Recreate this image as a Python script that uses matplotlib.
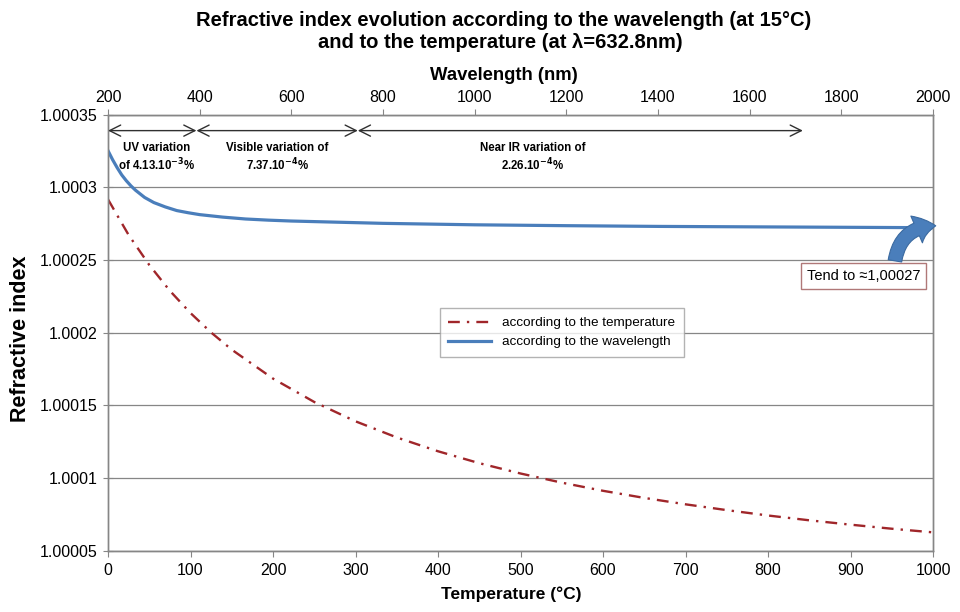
import matplotlib
matplotlib.use('Agg')
import matplotlib.pyplot as plt
from matplotlib.patches import FancyArrowPatch

plt.rcParams['font.family'] = ['Liberation Sans', 'DejaVu Sans']

# temperature curve (bottom axis), refractive index
temperature = [0, 25, 50, 75, 100, 125, 150, 200, 250, 300, 350, 400, 450,
               500, 550, 600, 650, 700, 750, 800, 850, 900, 950, 1000]
n_temperature = [1.0002917, 1.0002672, 1.0002466, 1.0002288, 1.0002135,
                 1.0002001, 1.0001883, 1.0001684, 1.0001523, 1.0001390,
                 1.0001279, 1.0001184, 1.0001102, 1.0001031, 1.0000968,
                 1.0000912, 1.0000863, 1.0000819, 1.0000779, 1.0000742,
                 1.0000709, 1.0000679, 1.0000651, 1.0000626]

# wavelength curve (top axis)
wavelength = [200, 210, 220, 230, 240, 250, 260, 280, 300, 325, 350, 375,
              400, 450, 500, 550, 600, 650, 700, 800, 1000, 1200, 1400,
              1600, 1800, 2000]
n_wavelength = [1.0003252, 1.000319, 1.0003135, 1.0003085, 1.0003045,
                1.000301, 1.000298, 1.000293, 1.0002895, 1.0002865,
                1.000284, 1.0002825, 1.0002812, 1.0002795, 1.0002782,
                1.0002774, 1.0002768, 1.0002764, 1.000276, 1.0002752,
                1.0002742, 1.0002736, 1.0002731, 1.0002728, 1.0002725,
                1.0002722]

y_ticks = [1.00005, 1.0001, 1.00015, 1.0002, 1.00025, 1.0003, 1.00035]
y_labels = ['1.00005', '1.0001', '1.00015', '1.0002', '1.00025', '1.0003', '1.00035']
t_ticks = list(range(0, 1001, 100))
w_ticks = list(range(200, 2001, 200))

# spectral ranges shown with the arrows on top (nm)
range_edges = [200, 393, 745, 1716]
range_texts = ['UV variation\nof 4.13.10$^{\\mathbf{-3}}$%',
               'Visible variation of\n7.37.10$^{\\mathbf{-4}}$%',
               'Near IR variation of\n2.26.10$^{\\mathbf{-4}}$%']
range_text_x = [306, 570, 1127]

grey = '#868686'
blue = '#4a7ebb'
red = '#a0262a'

fig = plt.figure(figsize=(9.6, 6.12), dpi=100)
ax = fig.add_axes([0.1125, 0.1002, 0.8594, 0.7125])
ax2 = ax.twiny()

l1, = ax.plot(temperature, n_temperature, color=red, lw=1.7,
              linestyle=(0, (5, 3, 1, 3)), label='according to the temperature')
l2, = ax2.plot(wavelength, n_wavelength, color=blue, lw=2.3,
               label='according to the wavelength')

ax.set_xlim(0, 1000)
ax2.set_xlim(200, 2000)
ax.set_ylim(1.00005, 1.00035)
ax.set_yticks(y_ticks)
ax.set_yticklabels(y_labels)
ax.set_xticks(t_ticks)
ax2.set_xticks(w_ticks)
ax.yaxis.grid(True, color=grey, lw=0.9)
ax.set_axisbelow(True)

for a in (ax, ax2):
    for s in a.spines.values():
        s.set_color(grey)
        s.set_linewidth(1.0)
ax.tick_params(axis='y', direction='inout', length=7, color=grey, labelsize=11.5, pad=4)
ax.tick_params(axis='x', direction='out', length=4, color=grey, labelsize=11.5, pad=5)
ax2.tick_params(axis='x', direction='out', length=4, color=grey, labelsize=11.5, pad=3)

ax.set_xlabel('Temperature (°C)', fontsize=12.5, fontweight='bold')
ax.xaxis.set_label_coords(0.489, -0.083)
ax.set_ylabel('Refractive index', fontsize=15.5, fontweight='bold')
ax.yaxis.set_label_coords(-0.093, 0.485)
ax2.set_xlabel('Wavelength (nm)', fontsize=13.3, fontweight='bold')
ax2.xaxis.set_label_coords(0.48, 1.08)

fig.text(0.525, 0.967, 'Refractive index evolution according to the wavelength (at 15°C)',
         ha='center', va='center', fontsize=14.5, fontweight='bold')
fig.text(0.521, 0.931, 'and to the temperature (at λ=632.8nm)',
         ha='center', va='center', fontsize=14.5, fontweight='bold')

# range arrows
arrow_y = 1.000339
for i in range(len(range_edges) - 1):
    ax2.annotate('', xy=(range_edges[i + 1], arrow_y), xytext=(range_edges[i], arrow_y),
                 arrowprops=dict(arrowstyle='<->', color='#303030', lw=1.0,
                                 shrinkA=0, shrinkB=0, mutation_scale=20))
for xt, txt in zip(range_text_x, range_texts):
    ax2.text(xt, 1.000331, txt, ha='center', va='top', fontsize=8.3,
             fontweight='bold', linespacing=1.2)

leg = ax.legend(handles=[l1, l2], loc='center', bbox_to_anchor=(0.55, 0.5),
                fontsize=9.7, frameon=True, fancybox=False, handlelength=3.2,
                borderpad=0.65, labelspacing=0.5)
leg.get_frame().set_edgecolor('#a0a0a0')
leg.get_frame().set_linewidth(1.0)

# "tend to" box and curved arrow
ax2.text(1849, 1.000239, 'Tend to ≈1,00027', ha='center', va='center', fontsize=10.5,
         bbox=dict(boxstyle='square,pad=0.4', fc='white', ec='#b07878', lw=1.0))
arr = FancyArrowPatch((1916, 1.0002475), (2012, 1.0002735),
                      connectionstyle='arc3,rad=-0.45',
                      arrowstyle='simple,head_width=1.5,head_length=1.0,tail_width=0.7',
                      mutation_scale=14, fc=blue, ec='#3b6aa0', lw=0.8, clip_on=False,
                      zorder=5)
ax2.add_patch(arr)

fig.savefig('out.png', dpi=100)
